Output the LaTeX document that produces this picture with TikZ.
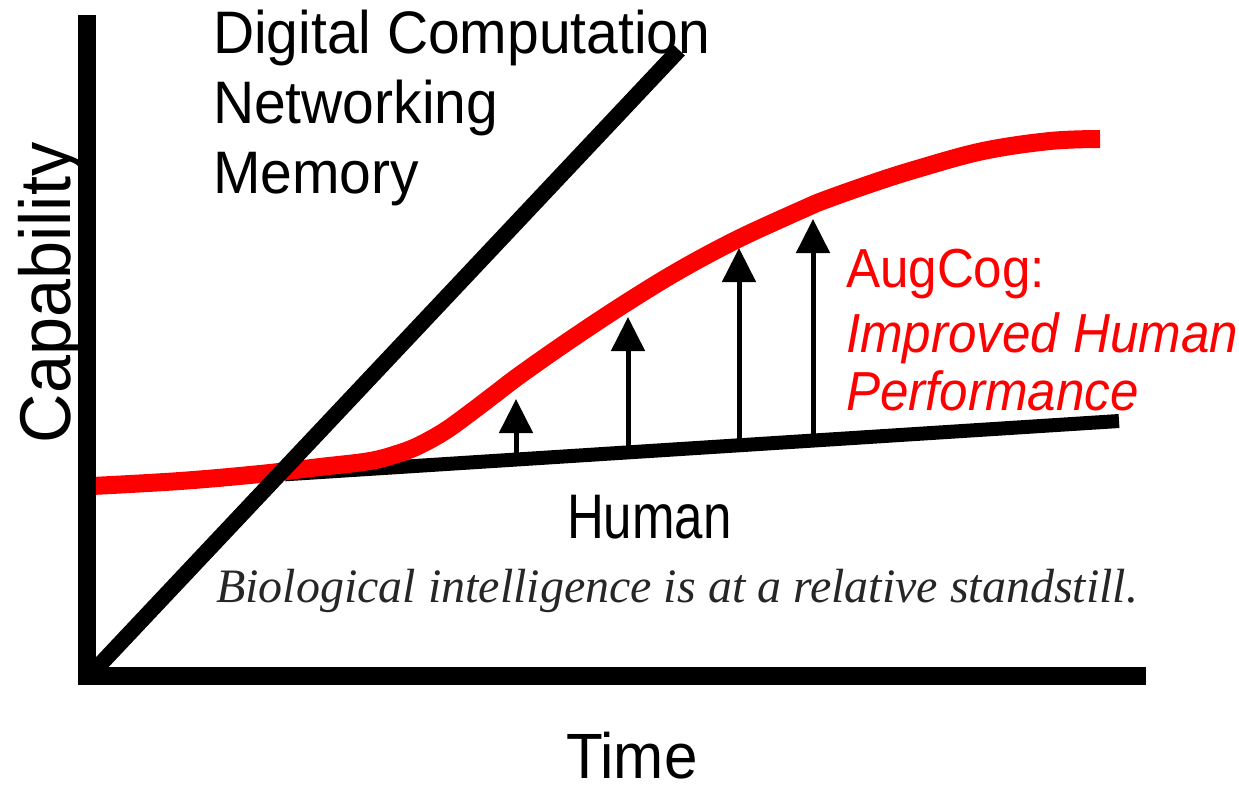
\documentclass[tikz,border=0pt]{standalone}
\usepackage{fontspec}
\setmainfont{Liberation Sans}
\newfontfamily\serifit{Liberation Serif}
\usetikzlibrary{arrows.meta}
\begin{document}
\begin{tikzpicture}[x=1pt,y=-1pt,
  axisline/.style={line width=18pt,line join=miter},
  humanline/.style={line width=14pt},
  digiline/.style={line width=16pt},
  augline/.style={line width=18pt,red},
  lbl/.style={anchor=base west,inner sep=0pt,outer sep=0pt},
  uparrow/.style={line width=5pt,-{Triangle[length=34pt,width=33pt]}},
]
\useasboundingbox (0,0) rectangle (1239,793);
\fill[white] (0,0) rectangle (1239,793);

% human line
\coordinate (hstart) at (285,474.3);
\coordinate (hend) at (1119,421);
\draw[humanline] (hstart) -- (hend);

% arrows
\coordinate (a1b) at (516,460);
\coordinate (a1t) at (516,399);
\coordinate (a2b) at (628,452.5);
\coordinate (a2t) at (628,317);
\coordinate (a3b) at (739,445.4);
\coordinate (a3t) at (739,248);
\coordinate (a4b) at (813,440.7);
\coordinate (a4t) at (813,219);
\draw[uparrow] (a1b) -- (a1t);
\draw[uparrow] (a2b) -- (a2t);
\draw[uparrow] (a3b) -- (a3t);
\draw[uparrow] (a4b) -- (a4t);

% augcog curve
\draw[augline] plot[smooth,tension=0.6] coordinates {
 (92,486) (180,481) (260,474) (320,467) (370,461) (400,453) (420,445)
 (445,431) (470,413) (495,394) (520,375) (570,340) (626,303) (680,270)
 (736,240) (790,215) (817,203) (870,184) (917,169) (983,151) (1050,141) (1100,139)};

% digital line
\coordinate (dstart) at (93,672);
\coordinate (dend) at (679,50);
\draw[digiline] (dstart) -- (dend);

% axes
\coordinate (ytop) at (87,15);
\coordinate (orig) at (87,676);
\coordinate (xend) at (1146,676);
\draw[axisline] (ytop) -- (orig) -- (xend);

% labels
\node[lbl] (dig) at (213,53) {\fontsize{60}{60}\selectfont\scalebox{0.95}[1]{Digital Computation}};
\node[lbl] (net) at (213,123) {\fontsize{60}{60}\selectfont\scalebox{0.95}[1]{Networking}};
\node[lbl] (mem) at (213,193) {\fontsize{60}{60}\selectfont\scalebox{0.95}[1]{Memory}};

\node[lbl,red] (aug) at (846,287) {\fontsize{55}{55}\selectfont\scalebox{0.93}[1]{AugCog:}};
\node[lbl,red] (imp) at (846,352) {\fontsize{55}{55}\selectfont\itshape\scalebox{0.93}[1]{Improved Human}};
\node[lbl,red] (perf) at (846,410) {\fontsize{55}{55}\selectfont\itshape\scalebox{0.93}[1]{Performance}};

\node[lbl] (hum) at (567,538) {\fontsize{63}{63}\selectfont\scalebox{0.81}[1]{Human}};
\node[lbl,black!85] (bio) at (216,602) {\serifit\itshape\fontsize{48}{48}\selectfont Biological intelligence is at a relative standstill.};

\node[lbl] (time) at (566,778) {\fontsize{64}{64}\selectfont\scalebox{0.94}[1]{Time}};
\node[lbl,rotate=90] (cap) at (70,443) {\fontsize{72}{72}\selectfont\scalebox{0.95}[1]{Capability}};
\end{tikzpicture}
\end{document}
